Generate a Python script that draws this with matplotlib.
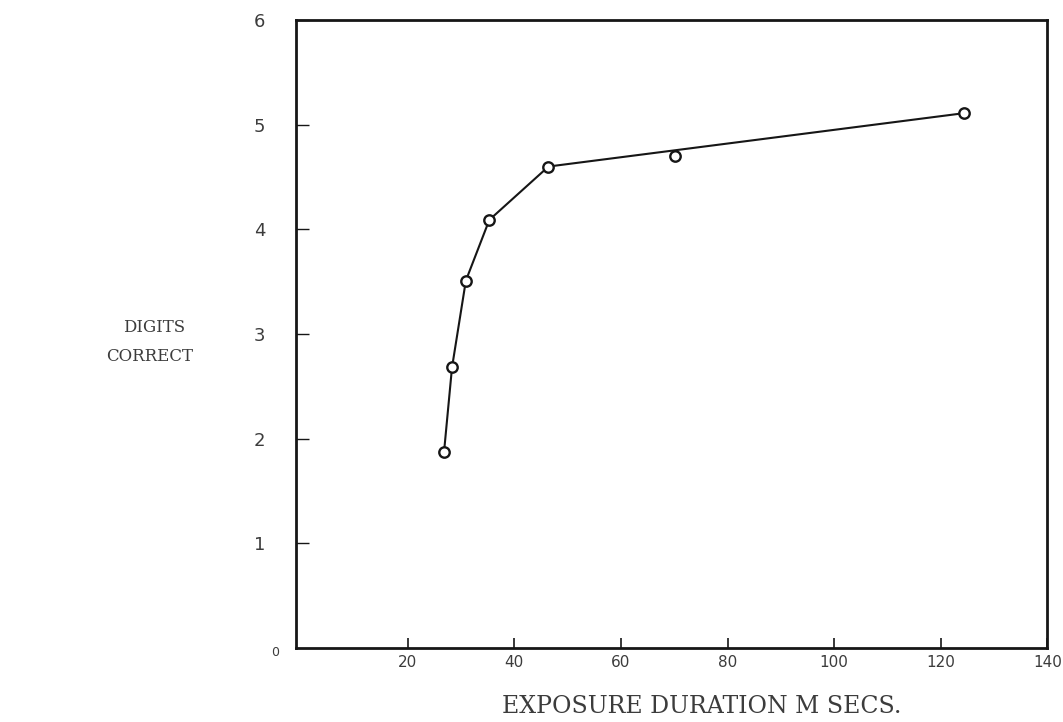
import matplotlib
matplotlib.use('Agg')
from matplotlib import pyplot as plt
import numpy as np

# exposure duration (msec) vs digits correct
exposure_ms = [26.8, 28.3, 30.9, 35.3, 46.4, 70.2, 124.4]
digits_correct = [1.87, 2.68, 3.51, 4.09, 4.60, 4.70, 5.11]
# the curve skips the 70 msec point
on_curve = [True, True, True, True, True, False, True]

x_ticks = [20, 40, 60, 80, 100, 120, 140]
y_ticks = [1, 2, 3, 4, 5, 6]

x = np.array(exposure_ms)
y = np.array(digits_correct)
m = np.array(on_curve)

ink = '#161616'
pencil = '#3c3c3c'

fig = plt.figure(figsize=(10.63, 7.22), dpi=100)
ax = fig.add_axes([0.2783, 0.1025, 0.7070, 0.8698])

ax.plot(x[m], y[m], color=ink, lw=1.5, zorder=2)
ax.plot(x, y, ls='none', marker='o', ms=7.5, mfc='white', mec=ink,
        mew=1.7, zorder=3)

ax.set_xlim(-1, 139.7)
ax.set_ylim(0, 6)

for s in ax.spines.values():
    s.set_linewidth(2.0)
    s.set_color(ink)

ax.set_xticks(x_ticks)
ax.set_xticklabels([str(t) for t in x_ticks])
ax.set_yticks(y_ticks)
ax.set_yticklabels([str(t) for t in y_ticks])
ax.tick_params(axis='x', direction='in', length=7, width=1.2, pad=5,
               labelsize=11, labelcolor=pencil, color=ink)
ax.tick_params(axis='y', direction='in', length=9, width=1.0, pad=22,
               labelsize=13, labelcolor=pencil, color=ink)

# origin label sits apart from the other y labels
ax.text(-4.9, -0.04, '0', fontsize=9, color=pencil, ha='center',
        va='center', clip_on=False)

ax.set_xlabel('EXPOSURE DURATION M SECS.', family='DejaVu Serif',
              fontsize=17, color=pencil)
ax.xaxis.set_label_coords(0.54, -0.075)

fig.text(0.145, 0.546, 'DIGITS', family='DejaVu Serif', fontsize=12,
         color=pencil, ha='center', va='center')
fig.text(0.141, 0.506, 'CORRECT', family='DejaVu Serif', fontsize=12,
         color=pencil, ha='center', va='center')

fig.savefig('out.png', dpi=100)
